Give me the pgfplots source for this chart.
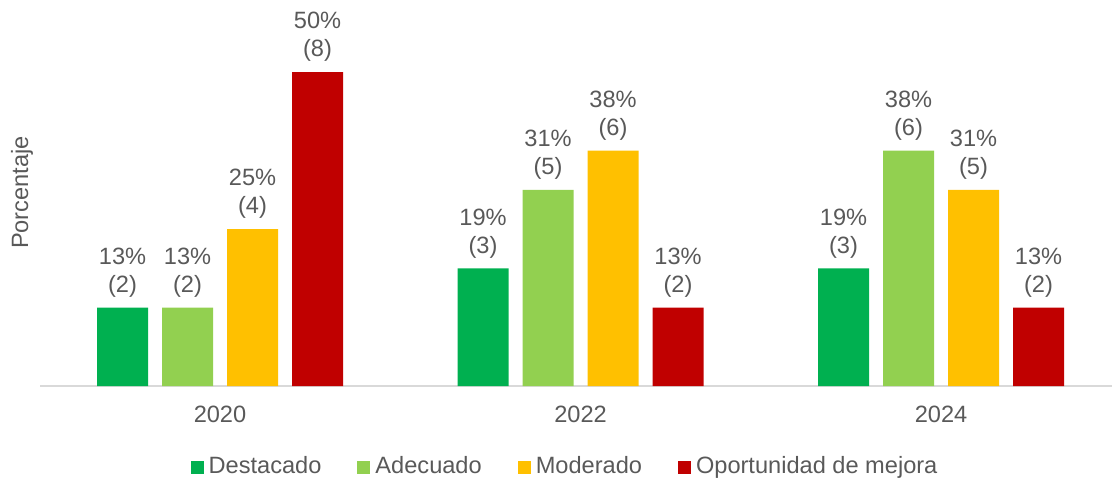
\documentclass[border=0pt]{standalone}
\usepackage{fontspec}
\setmainfont{Liberation Sans}
\usepackage{pgfplots}
\pgfplotsset{compat=1.18}
\definecolor{txt}{HTML}{595959}
\definecolor{axgray}{HTML}{D9D9D9}
\definecolor{cdest}{HTML}{00B050}
\definecolor{cadec}{HTML}{92D050}
\definecolor{cmod}{HTML}{FFC000}
\definecolor{copor}{HTML}{C00000}
\newcommand{\chfont}{\fontsize{11.8pt}{14pt}\selectfont}
\begin{document}
\begin{tikzpicture}
\chfont
\path[use as bounding box] (0,0) rectangle (556pt,241.5pt);
\begin{axis}[
  at={(20pt,48.5pt)}, anchor=south west,
  scale only axis, width=536pt, height=188.4pt,
  xmin=-0.4993, xmax=2.4743, ymin=0, ymax=60,
  ybar=7pt, bar width=25.5pt,
  axis x line*=bottom, axis y line*=left,
  x axis line style={draw=axgray, line width=1pt, -},
  y axis line style={draw=none},
  xtick={0,1,2}, xticklabels={2020,2022,2024},
  major tick length=0pt,
  ytick=\empty,
  xticklabel style={text=txt, font=\chfont, anchor=north, yshift=-6pt},
  ylabel={Porcentaje},
  every axis y label/.style={at={(axis description cs:0,0.5135)}, xshift=-9pt, anchor=center, rotate=90, text=txt, font=\chfont},
  point meta=explicit symbolic,
  nodes near coords,
  every node near coord/.append style={align=center, text=txt, font=\chfont, yshift=1pt},
  clip=false,
  legend columns=-1,
  legend style={draw=none, fill=none, at={(axis description cs:0.4893,0)}, anchor=center, yshift=-40.5pt, xshift=1pt,
    font=\chfont, text=txt, nodes={inner xsep=2.5pt},
    /tikz/every even column/.append style={column sep=15.5pt}},
  legend image code/.code={\fill[#1] (0pt,-3.25pt) rectangle (6.5pt,3.25pt);},
]
\addplot[fill=cdest, draw=none] coordinates {(0,12.5)[13\%\\(2)] (1,18.75)[19\%\\(3)] (2,18.75)[19\%\\(3)]};
\addplot[fill=cadec, draw=none] coordinates {(0,12.5)[13\%\\(2)] (1,31.25)[31\%\\(5)] (2,37.5)[38\%\\(6)]};
\addplot[fill=cmod, draw=none] coordinates {(0,25)[25\%\\(4)] (1,37.5)[38\%\\(6)] (2,31.25)[31\%\\(5)]};
\addplot[fill=copor, draw=none] coordinates {(0,50)[50\%\\(8)] (1,12.5)[13\%\\(2)] (2,12.5)[13\%\\(2)]};
\legend{Destacado, Adecuado, Moderado, Oportunidad de mejora}
\end{axis}
\end{tikzpicture}
\end{document}
